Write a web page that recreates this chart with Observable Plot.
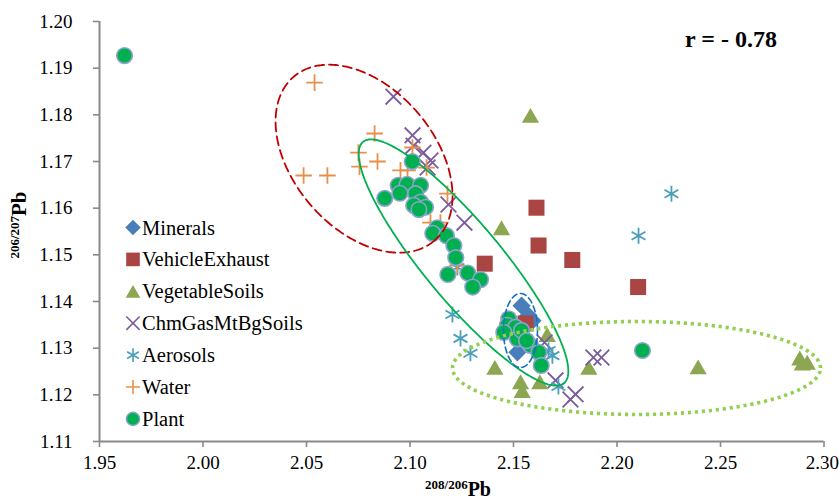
<!DOCTYPE html>
<html><head><meta charset="utf-8">
<script src="https://cdn.jsdelivr.net/npm/d3@7"></script>
<script src="https://cdn.jsdelivr.net/npm/@observablehq/plot@0.6"></script>
<style>
html,body{margin:0;padding:0;background:#fff;}
#wrap{position:relative;width:839px;height:501px;overflow:hidden;}
#wrap svg{display:block;}
#overlay{position:absolute;left:0;top:0;pointer-events:none;}
#wrap text{font-family:"Liberation Serif","Tinos","Times New Roman",Times,"Nimbus Roman","DejaVu Serif","Noto Serif",serif;}
</style></head><body><div id="wrap"></div>
<script>
// ---- tick values ----
const xTicks = [1.95, 2.00, 2.05, 2.10, 2.15, 2.20, 2.25, 2.30];
const yTicks = [1.11, 1.12, 1.13, 1.14, 1.15, 1.16, 1.17, 1.18, 1.19, 1.20];

// ---- series (208/206Pb, 206/207Pb) ----
const minerals = [[2.1539,1.1391],[2.1572,1.1370],[2.1592,1.1359],[2.1519,1.1291],[2.1558,1.1316]];
const vehicleExhaust = [[2.1611,1.1601],[2.1621,1.1520],[2.1361,1.1481],[2.1784,1.1489],[2.2102,1.1431],[2.1558,1.1353]];
const vegetableSoils = [[2.1582,1.1799],[2.1442,1.1558],[2.1410,1.1259],[2.1534,1.1228],[2.1542,1.1209],[2.1627,1.1228],[2.1663,1.1329],[2.1864,1.1259],[2.2392,1.1260],[2.2883,1.1279],[2.2919,1.1270],[2.2895,1.1268]];
const chmGasMtBgSoils = [[2.0920,1.1839],[2.1012,1.1756],[2.1017,1.1734],[2.1065,1.1719],[2.1099,1.1702],[2.1085,1.1687],[2.1186,1.1608],[2.1263,1.1569],[2.1650,1.1312],[2.1703,1.1231],[2.1775,1.1190],[2.1800,1.1201],[2.1886,1.1280],[2.1925,1.1280]];
const aerosols = [[2.2263,1.1631],[2.2104,1.1541],[2.1205,1.1372],[2.1244,1.1321],[2.1292,1.1289],[2.1669,1.1295],[2.1688,1.1284],[2.1717,1.1218],[2.1229,1.1473]];
const water = [[2.0539,1.1869],[2.0829,1.1760],[2.0751,1.1719],[2.0756,1.1689],[2.0843,1.1700],[2.0486,1.1670],[2.0601,1.1670],[2.0954,1.1681],[2.0988,1.1681],[2.1012,1.1730],[2.1080,1.1687],[2.1181,1.1631],[2.1099,1.1569],[2.1147,1.1569],[2.1229,1.1477]];
const plant = [[1.9621,1.1927],[2.1011,1.1700],[2.0878,1.1621],[2.0943,1.1649],[2.0986,1.1651],[2.1051,1.1649],[2.0951,1.1632],[2.1027,1.1631],[2.1051,1.1613],[2.1018,1.1606],[2.1075,1.1602],[2.1043,1.1597],[2.1131,1.1558],[2.1110,1.1546],[2.1176,1.1541],[2.1212,1.1520],[2.1221,1.1494],[2.1183,1.1458],[2.1279,1.1461],[2.1341,1.1447],[2.1303,1.1431],[2.1477,1.1363],[2.1470,1.1349],[2.1510,1.1345],[2.1453,1.1334],[2.1518,1.1320],[2.1582,1.1306],[2.1622,1.1291],[2.1634,1.1263],[2.1539,1.1338],[2.1563,1.1316],[2.2123,1.1295]];

// ---- annotation ellipses: [cx, cy, ux, uy, vx, vy] in data units ----
const redEllipse = [2.0778, 1.1706, 0.03401, -0.01755, -0.02589, -0.00988];
const greenEllipse = [2.12585, 1.14836, 0.04855, -0.02584, -0.01440, -0.00531];
const blueEllipse = [2.15338, 1.13379, 0.00821, 0, 0, 0.00793];
const limeEllipse = [2.20942, 1.12575, 0.08889, 0, 0, 0.00996];

const seriesNames = ["Minerals","VehicleExhaust","VegetableSoils","ChmGasMtBgSoils","Aerosols","Water","Plant"];
const rLabel = "r = - 0.78";

function ellipsePts(e) {
  const [cx, cy, ux, uy, vx, vy] = e;
  return d3.range(0, 361).map(i => {
    const t = i * Math.PI / 180;
    return [cx + ux*Math.cos(t) + vx*Math.sin(t), cy + uy*Math.cos(t) + vy*Math.sin(t)];
  });
}

const FONT = '"Liberation Serif","Tinos","Times New Roman",Times,"Nimbus Roman","DejaVu Serif","Noto Serif",serif';
const C = {
  minerals: "#4A7EBB", vehicle: "#A94543", veg: "#8CA651", chm: "#7A5C9E",
  aer: "#4A9FBA", water: "#E8904A", plant: "#00B050", plantStroke: "#8DA3CF", axis: "#898989"
};
const SYM = [
  {type: d3.symbolDiamond2, r: 8.2, fill: C.minerals},
  {type: d3.symbolSquare2, r: 10.2, fill: C.vehicle},
  {type: d3.symbolTriangle2, r: 8.2, fill: C.veg, dy: 2.5},
  {type: d3.symbolTimes, r: 7.2, stroke: C.chm},
  {type: d3.symbolAsterisk, r: 7.6, stroke: C.aer},
  {type: d3.symbolPlus, r: 5.4, stroke: C.water},
  {type: d3.symbolCircle, r: 7.8, fill: C.plant, stroke: C.plantStroke}
];

const lastX = xTicks[xTicks.length - 1];
const X = d => d[0], Y = d => d[1];
const chart = Plot.plot({
  width: 839, height: 501,
  marginLeft: 99, marginRight: 15.5, marginTop: 21, marginBottom: 60,
  style: {fontFamily: FONT, fontSize: "19px", background: "white", color: "black"},
  x: {domain: [1.95, 2.30]},
  y: {domain: [1.11, 1.20]},
  marks: [
    Plot.dot(minerals, {x: X, y: Y, symbol: "diamond2", r: SYM[0].r, fill: C.minerals, stroke: "none"}),
    Plot.dot(vehicleExhaust, {x: X, y: Y, symbol: "square2", r: SYM[1].r, fill: C.vehicle, stroke: "none"}),
    Plot.dot(vegetableSoils, {x: X, y: Y, symbol: "triangle2", r: SYM[2].r, fill: C.veg, stroke: "none", dy: 2.5}),
    Plot.dot(chmGasMtBgSoils, {x: X, y: Y, symbol: "times", r: SYM[3].r, stroke: C.chm, strokeWidth: 1.8, fill: "none"}),
    Plot.dot(aerosols, {x: X, y: Y, symbol: "asterisk", r: SYM[4].r, stroke: C.aer, strokeWidth: 1.8, fill: "none"}),
    Plot.dot(water, {x: X, y: Y, symbol: "plus", r: SYM[5].r, stroke: C.water, strokeWidth: 1.8, fill: "none"}),
    Plot.dot(plant, {x: X, y: Y, symbol: "circle", r: SYM[6].r, fill: C.plant, stroke: C.plantStroke, strokeWidth: 1.6}),
    Plot.line(ellipsePts(redEllipse), {x: X, y: Y, stroke: "#C00000", strokeWidth: 1.8, strokeDasharray: "9,5"}),
    Plot.line(ellipsePts(greenEllipse), {x: X, y: Y, stroke: "#00B050", strokeWidth: 1.8}),
    Plot.line(ellipsePts(blueEllipse), {x: X, y: Y, stroke: "#1270C4", strokeWidth: 1.6, strokeDasharray: "6,3.5"}),
    Plot.line(ellipsePts(limeEllipse), {x: X, y: Y, stroke: "#92D050", strokeWidth: 3.6, strokeDasharray: "3.2,3.8", strokeLinecap: "butt"}),
    Plot.ruleX([1.95], {stroke: C.axis, strokeWidth: 2}),
    Plot.ruleY([1.11], {stroke: C.axis, strokeWidth: 2}),
    Plot.axisX(xTicks, {tickFormat: d => d === lastX ? "" : d.toFixed(2), tickSize: 6, tickPadding: 8, stroke: C.axis, strokeWidth: 1.6, fill: "black"}),
    Plot.axisX([lastX], {tickFormat: d => d.toFixed(2), tickSize: 0, tickPadding: 14, stroke: "none", fill: "black", textAnchor: "end", dx: 15}),
    Plot.axisY(yTicks, {tickFormat: d => d.toFixed(2), tickSize: 6, tickPadding: 21, stroke: C.axis, strokeWidth: 1.6, fill: "black"})
  ]
});
const wrap = document.getElementById("wrap");
wrap.appendChild(chart);

// ---- overlay: legend, axis titles, r label ----
const ov = d3.select(wrap).append("svg").attr("id", "overlay").attr("width", 839).attr("height", 501)
  .style("font-family", FONT);

const lg = ov.append("g");
SYM.forEach((s, i) => {
  const cy = 227.5 + i * 31.9;
  const k = 0.85;
  lg.append("path")
    .attr("d", d3.symbol(s.type, Math.PI * (s.r*k) * (s.r*k))())
    .attr("transform", `translate(133,${cy + (s.dy ? s.dy*k : 0)})`)
    .attr("fill", s.fill || "none")
    .attr("stroke", s.stroke || "none")
    .attr("stroke-width", s.fill ? 1.4 : 1.6);
  lg.append("text").attr("x", 142).attr("y", cy + 7).attr("font-size", "20.5px").attr("fill", "black").text(seriesNames[i]);
});

ov.append("text").attr("x", 777).attr("y", 47).attr("text-anchor", "end")
  .attr("font-size", "24px").attr("font-weight", "bold").text(rLabel);

// x title 208/206Pb
const xt = ov.append("text").attr("x", 458).attr("y", 496).attr("text-anchor", "middle").attr("font-weight", "bold");
xt.append("tspan").attr("font-size", "13px").attr("dy", -7).text("208/206");
xt.append("tspan").attr("font-size", "20px").attr("dy", 7).text("Pb");

// y title 206/207Pb
const yt = ov.append("text").attr("transform", "translate(26,225) rotate(-90)").attr("text-anchor", "middle").attr("font-weight", "bold");
yt.append("tspan").attr("font-size", "13px").attr("dy", -7).text("206/207");
yt.append("tspan").attr("font-size", "21px").attr("dy", 7).text("Pb");
</script>
</body></html>
